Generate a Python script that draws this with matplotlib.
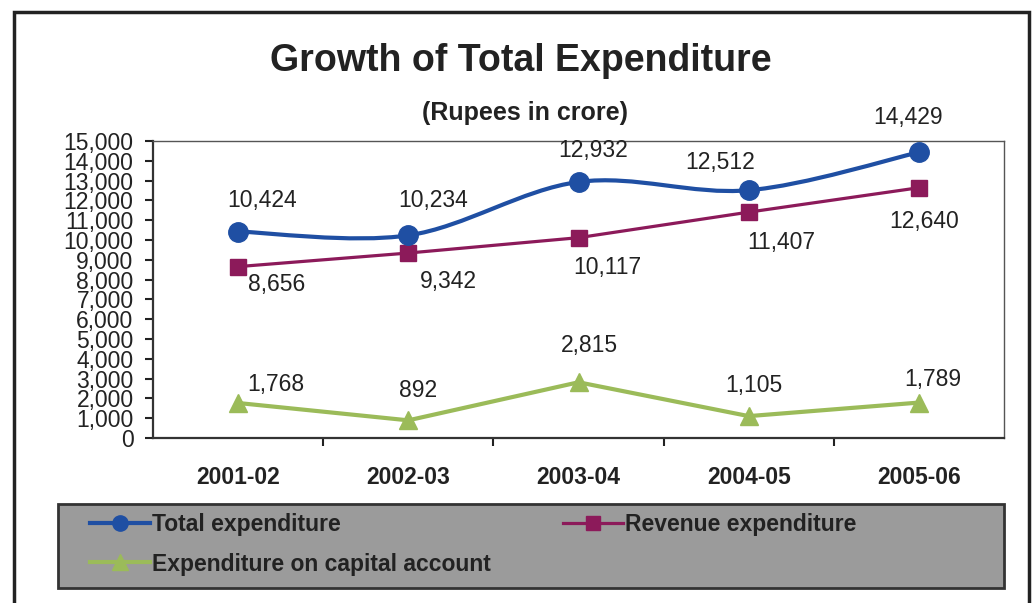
import matplotlib.pyplot as plt
from matplotlib.path import Path
from matplotlib.patches import PathPatch, Rectangle
from matplotlib.lines import Line2D

plt.rcParams['font.family'] = ['Liberation Sans', 'DejaVu Sans']

years = ['2001-02', '2002-03', '2003-04', '2004-05', '2005-06']
total_exp = [10424, 10234, 12932, 12512, 14429]
revenue_exp = [8656, 9342, 10117, 11407, 12640]
capital_exp = [1768, 892, 2815, 1105, 1789]

# where each value label sits relative to its point (pixels)
total_off = [(24, 31), (25, 35), (15, 31), (-29, 28), (-11, 35)]
revenue_off = [(39, -18), (40, -28), (29, -30), (33, -30), (5, -34)]
capital_off = [(38, 18), (10, 30), (11, 37), (5, 31), (14, 23)]

BLUE = '#1F4FA3'
MAROON = '#8C1A5A'
GREEN = '#9BBB59'
TXT = '#222222'

fig = plt.figure(figsize=(10.33, 6.03), dpi=100)
ax = fig.add_axes([153 / 1033, 1 - 438 / 603, (1004 - 153) / 1033, (438 - 141) / 603])

x = list(range(len(years)))


def smooth_path(xs, ys):
    # bezier segments through the points, like a spreadsheet "smoothed line"
    pts = list(zip(xs, ys))
    verts = [pts[0]]
    codes = [Path.MOVETO]
    for i in range(len(pts) - 1):
        p0 = pts[i - 1] if i > 0 else pts[i]
        p1 = pts[i]
        p2 = pts[i + 1]
        p3 = pts[i + 2] if i + 2 < len(pts) else pts[i + 1]
        c1 = (p1[0] + (p2[0] - p0[0]) / 6, p1[1] + (p2[1] - p0[1]) / 6)
        c2 = (p2[0] - (p3[0] - p1[0]) / 6, p2[1] - (p3[1] - p1[1]) / 6)
        verts += [c1, c2, p2]
        codes += [Path.CURVE4] * 3
    return Path(verts, codes)


ax.add_patch(PathPatch(smooth_path(x, total_exp), fill=False, edgecolor=BLUE, lw=3, zorder=3))
ax.plot(x, total_exp, linestyle='none', marker='o', ms=14, color=BLUE, zorder=4)
ax.plot(x, revenue_exp, marker='s', ms=11, lw=2.3, color=MAROON, zorder=3)
ax.plot(x, capital_exp, marker='^', ms=13, lw=3, color=GREEN, zorder=3)

for vals, offs in [(total_exp, total_off), (revenue_exp, revenue_off), (capital_exp, capital_off)]:
    for xi, v, (dx, dy) in zip(x, vals, offs):
        ax.annotate(f'{v:,}', (xi, v), xytext=(dx, dy), textcoords='offset pixels',
                    ha='center', va='center', fontsize=16.5, color=TXT,
                    annotation_clip=False)

ax.set_xlim(-0.5, 4.5)
ax.set_ylim(0, 15000)
ax.set_yticks(range(0, 15001, 1000))
ax.set_yticklabels([f'{v:,}' for v in range(0, 15001, 1000)])
ax.set_xticks(x)
ax.set_xticklabels(years)
ax.set_xticks([0.5, 1.5, 2.5, 3.5], minor=True)

ax.tick_params(axis='y', length=6, width=1.5, pad=8, labelsize=16.5, colors=TXT)
ax.tick_params(axis='x', which='major', length=0, pad=20, labelsize=16.5, colors=TXT)
ax.tick_params(axis='x', which='minor', length=6, width=1.5, color=TXT)
for lab in ax.get_xticklabels():
    lab.set_fontweight('bold')

for side in ['left', 'bottom']:
    ax.spines[side].set_linewidth(1.6)
    ax.spines[side].set_color('#333333')
for side in ['top', 'right']:
    ax.spines[side].set_linewidth(1.0)
    ax.spines[side].set_color('#555555')

fig.text(521 / 1033, 1 - 61 / 603, 'Growth of Total Expenditure', ha='center', va='center',
         fontsize=27, fontweight='bold', color=TXT)
fig.text(525 / 1033, 1 - 113 / 603, '(Rupees in crore)', ha='center', va='center',
         fontsize=18, fontweight='bold', color=TXT)

# legend panel
fig.patches.append(Rectangle((58 / 1033, 1 - 588 / 603), (1004 - 58) / 1033, 84 / 603,
                             transform=fig.transFigure, facecolor='#9B9B9B',
                             edgecolor='#333333', lw=2, zorder=1))
handles = [
    Line2D([], [], color=BLUE, lw=3, marker='o', ms=11),
    Line2D([], [], color=MAROON, lw=2.3, marker='s', ms=10),
    Line2D([], [], color=GREEN, lw=3, marker='^', ms=11),
]
labels = ['Total expenditure', 'Revenue expenditure', 'Expenditure on capital account']
leg = fig.legend([handles[0], handles[2], handles[1]], [labels[0], labels[2], labels[1]],
                 ncol=2, loc='upper left', bbox_to_anchor=(90 / 1033, 1 - 513 / 603),
                 frameon=False, borderpad=0, borderaxespad=0, handlelength=2.6,
                 handletextpad=0.1, columnspacing=3.15, labelspacing=0.72,
                 prop={'size': 16.5, 'weight': 'bold'})
for t in leg.get_texts():
    t.set_color(TXT)

# outer border of the chart
fig.patches.append(Rectangle((14 / 1033, -0.05), (1029 - 14) / 1033, 1 - 12 / 603 + 0.05,
                             transform=fig.transFigure, fill=False,
                             edgecolor='#222222', lw=2.5, zorder=0))

fig.savefig('out.png', dpi=100)
